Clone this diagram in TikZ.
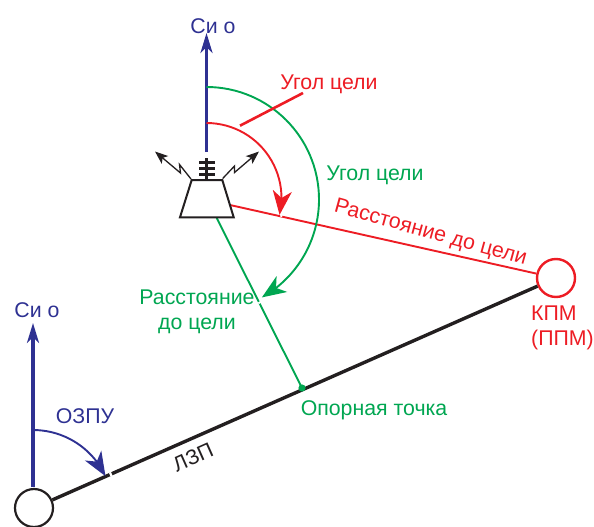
\documentclass[tikz,border=0pt]{standalone}
\usepackage{fontspec}
\setmainfont{Liberation Sans}
\usetikzlibrary{arrows.meta,calc,bending}
\definecolor{navyb}{HTML}{2E3192}
\definecolor{redc}{HTML}{ED1C24}
\definecolor{greenc}{HTML}{00A651}
\definecolor{blk}{HTML}{231F20}
\tikzset{
  x=1pt,y=-1pt,
  txt/.style={inner sep=0pt,font=\fontsize{21.3}{25}\selectfont,align=center},
  blue txt/.style={txt,text=navyb},
  red txt/.style={txt,text=redc},
  green txt/.style={txt,text=greenc},
  bigtip/.style={-{Stealth[length=24pt,width=19pt,inset=7pt,flex=1]}},
  gap/.style={white,line width=4pt},
  bolt/.style={blk,line width=1.3pt,-{Stealth[length=13pt,width=10pt,inset=3pt]}},
}
\begin{document}
\begin{tikzpicture}
\useasboundingbox (0,0) rectangle (594,527);
% named points
\coordinate (acN) at (206.5,33);
\coordinate (acB) at (206.5,152);
\coordinate (stN) at (33,323);
\coordinate (stB) at (33,487);
\node[draw=blk,line width=2.2pt,circle,minimum size=38pt,inner sep=0pt] (start) at (34,508) {};
\node[draw=redc,line width=2.4pt,circle,minimum size=38pt,inner sep=0pt] (kpm) at (556,278) {};
\coordinate (ref) at (302,388);
\coordinate (acR) at (230,205);
\coordinate (acG) at (216.7,218);
% route
\draw[blk,line width=3.4pt] (start) -- (kpm);
\draw[redc,line width=1.9pt] (acR) -- (kpm);
\draw[greenc,line width=1.9pt] (acG) -- (ref);
\fill[greenc] (ref) circle (3.6);
% north arrows
\draw[navyb,line width=3.4pt,-{Stealth[length=20pt,width=12pt,inset=6pt]}] (acB) -- (acN);
\draw[navyb,line width=3.4pt,-{Stealth[length=20pt,width=12pt,inset=6pt]}] (stB) -- (stN);
% breaks
\draw[gap] ($(start)!0.147!(kpm)$) ++(-1,0.45) -- ++(2,-0.9);
\draw[gap] (280.5,214.5) -- (282.5,215);
\draw[gap] (259.5,301.5) -- (260.5,303);
% arcs
\coordinate (a1) at (206.5,87);
\coordinate (a2) at (206.5,123);
\coordinate (a3) at (33,430);
\draw[greenc,line width=1.9pt,bigtip] (a1) arc[start angle=-90,end angle=60.5,radius=112.5];
\draw[redc,line width=1.9pt,bigtip] (a2) arc[start angle=-90,end angle=13,radius=75];
\draw[navyb,line width=1.9pt,bigtip] (a3) arc[start angle=-90,end angle=-25,radius=80];
% aircraft
\draw[blk,line width=2pt,line join=miter] (191.7,180) -- (222.3,180) -- (233.7,217.3) -- (180,217.3) -- cycle;
\coordinate (antT) at (206.5,158);
\coordinate (antB) at (206.5,180);
\draw[blk,line width=2.2pt] (antT) -- (antB);
\foreach \yy in {162.5,168.5,174.5} \draw[blk,line width=2.2pt] (199,\yy) -- (215,\yy);
\draw[bolt] (191,179) -- (179.5,164.5) -- (180.5,173) -- (155,151.5);
\draw[bolt] (222.7,178.5) -- (234.5,166) -- (234.5,172.5) -- (259,151.5);
% leader
\coordinate (l1) at (240,125.7);
\coordinate (l2) at (303,93);
\draw[redc,line width=2.6pt] (l1) -- (l2);
% labels
\node[blue txt] (t1) at (213,26) {Си о};
\node[blue txt] (t2) at (37,310) {Си о};
\node[blue txt] (t3) at (85,416) {ОЗПУ};
\node[red txt] (t4) at (329,84.5) {Угол цели};
\node[green txt] (t5) at (375,175) {Угол цели};
\node[red txt,rotate=-15.5] (t6) at (430.5,233.5) {Расстояние до цели};
\node[green txt] (t7) at (197,312) {Расстояние\\до цели};
\node[green txt] (t8) at (374,410.5) {Опорная точка};
\node[red txt,align=left,anchor=west] (t9) at (531,328) {КПМ\\(ППМ)};
\node[txt,text=blk,rotate=24,font=\fontsize{21}{24}\selectfont] (t10) at (193,457) {ЛЗП};
\end{tikzpicture}
\end{document}
